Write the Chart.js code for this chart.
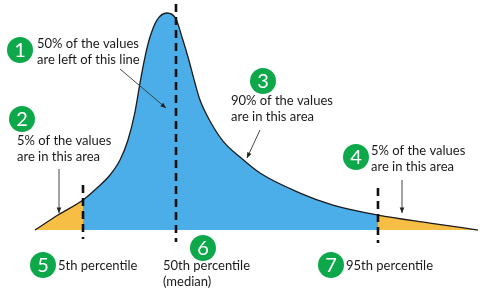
<!DOCTYPE html>
<html>
<head>
<meta charset="utf-8">
<script src="https://cdn.jsdelivr.net/npm/chart.js@4"></script>
<style>
  html, body { margin: 0; padding: 0; background: #fff; }
  canvas { display: block; }
</style>
</head>
<body>
<canvas id="chart" width="497" height="301"></canvas>
<script>
// curve of a right-skewed distribution, x = value (0..100), y = density (peak = 100)
const curveX = [0, 5.19, 10.84, 14.0, 16.93, 19.19, 20.99, 22.57, 23.70, 24.83, 25.96, 27.54, 29.80, 31.83, 33.18, 34.54, 36.12, 37.25, 39.50, 42.44, 46.28, 50.79, 59.82, 67.27, 77.43, 89.16, 100];
const curveY = [0, 6.91, 13.82, 19.35, 25.35, 32.26, 41.47, 54.38, 67.74, 79.72, 88.94, 96.77, 100, 97.24, 88.94, 79.72, 67.74, 59.91, 50.23, 41.01, 33.64, 26.27, 17.05, 11.52, 6.91, 3.23, 0];

// percentile markers
const percentileNames = ['5th', '50th', '95th'];
const percentileX = [10.84, 31.83, 77.43];
const markerTop = [20.7, 104.1, 19.4];
const markerBottom = [-4.1, -5.5, -6.0];

const blue = '#4CAEE9';
const orange = '#F6BE45';
const green = '#0DA84A';

function points(from, to) {
  const out = [];
  for (let i = 0; i < curveX.length; i++) {
    if (curveX[i] >= from && curveX[i] <= to) out.push({ x: curveX[i], y: curveY[i] });
  }
  return out;
}

const curve = points(0, 100);
const leftTail = points(0, percentileX[0]);
const middle = points(percentileX[0], percentileX[2]);
const rightTail = points(percentileX[2], 100);

const markers = percentileX.map((x, i) => ({
  data: [{ x: x, y: markerTop[i] }, { x: x, y: markerBottom[i] }],
  borderColor: '#111',
  borderWidth: 2.6,
  borderDash: [8, 5],
  pointRadius: 0,
  fill: false,
  showLine: true,
  order: 0
}));

const areaStyle = (data, color) => ({
  data: data,
  showLine: true,
  fill: 'origin',
  backgroundColor: color,
  borderWidth: 0,
  pointRadius: 0,
  cubicInterpolationMode: 'monotone',
  order: 2
});

// text, number badges and arrows
const notes = [
  { n: '1', cx: 20, cy: 50, lines: ['50% of the values', 'are left of this line'], tx: 37, ty: 44 },
  { n: '2', cx: 22, cy: 119, lines: ['5% of the values', 'are in this area'], tx: 17, ty: 141 },
  { n: '3', cx: 263, cy: 81, lines: ['90% of the values', 'are in this area'], tx: 231, ty: 101 },
  { n: '4', cx: 356, cy: 157, lines: ['5% of the values', 'are in this area'], tx: 371, ty: 151 },
  { n: '5', cx: 43, cy: 265, lines: ['5th percentile'], tx: 58, ty: 266 },
  { n: '6', cx: 203, cy: 248, lines: ['50th percentile', '(median)'], tx: 163, ty: 266 },
  { n: '7', cx: 331, cy: 265, lines: ['95th percentile'], tx: 346, ty: 266 }
];
const arrows = [
  [120, 69, 166, 108],
  [59, 169, 59, 213],
  [260, 130, 247, 158],
  [402, 180, 402, 213]
];

const annotations = {
  id: 'annotations',
  afterDatasetsDraw(chart) {
    const ctx = chart.ctx;
    ctx.save();
    arrows.forEach(([x1, y1, x2, y2]) => {
      ctx.strokeStyle = '#333';
      ctx.fillStyle = '#222';
      ctx.lineWidth = 0.9;
      ctx.beginPath();
      ctx.moveTo(x1, y1);
      ctx.lineTo(x2, y2);
      ctx.stroke();
      const a = Math.atan2(y2 - y1, x2 - x1);
      ctx.beginPath();
      ctx.moveTo(x2, y2);
      ctx.lineTo(x2 - 6 * Math.cos(a - 0.4), y2 - 6 * Math.sin(a - 0.4));
      ctx.lineTo(x2 - 6 * Math.cos(a + 0.4), y2 - 6 * Math.sin(a + 0.4));
      ctx.closePath();
      ctx.fill();
    });
    notes.forEach(note => {
      ctx.fillStyle = green;
      ctx.beginPath();
      ctx.arc(note.cx, note.cy, 13, 0, Math.PI * 2);
      ctx.fill();
      ctx.fillStyle = '#fff';
      ctx.font = '20px Lato, sans-serif';
      ctx.textAlign = 'center';
      ctx.textBaseline = 'middle';
      ctx.fillText(note.n, note.cx, note.cy + 1);
      ctx.fillStyle = '#1a1a1a';
      ctx.font = '13px Lato, sans-serif';
      ctx.textAlign = 'left';
      note.lines.forEach((line, i) => ctx.fillText(line, note.tx, note.ty + i * 16));
    });
    ctx.restore();
  }
};

new Chart(document.getElementById('chart'), {
  type: 'scatter',
  data: {
    datasets: [
      ...markers,
      {
        data: curve,
        showLine: true,
        fill: false,
        borderColor: '#1b1b1b',
        borderWidth: 1.3,
        pointRadius: 0,
        cubicInterpolationMode: 'monotone',
        order: 1
      },
      areaStyle(leftTail, orange),
      areaStyle(middle, blue),
      areaStyle(rightTail, orange)
    ]
  },
  options: {
    responsive: false,
    animation: false,
    layout: { padding: 0 },
    plugins: { legend: { display: false }, tooltip: { enabled: false } },
    scales: {
      x: { type: 'linear', display: false, min: -7.9, max: 104.3 },
      y: { type: 'linear', display: false, min: -32.7, max: 106.0 }
    }
  },
  plugins: [annotations]
});
</script>
</body>
</html>
